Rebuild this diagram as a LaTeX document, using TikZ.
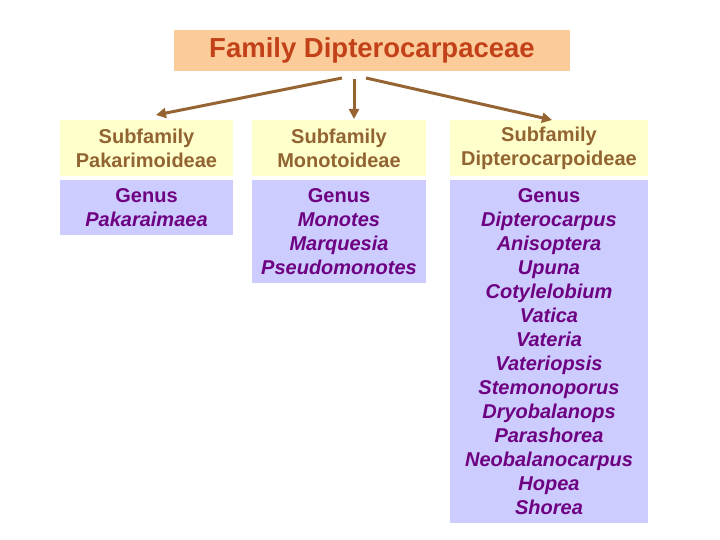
\documentclass[tikz,border=0pt]{standalone}
\usepackage{fontspec}
\setmainfont{Liberation Sans}
\usetikzlibrary{arrows.meta}
\definecolor{titlefill}{RGB}{251,204,153}
\definecolor{titletext}{RGB}{195,65,25}
\definecolor{subfill}{RGB}{255,255,204}
\definecolor{subtext}{RGB}{145,100,50}
\definecolor{genfill}{RGB}{204,204,255}
\definecolor{gentext}{RGB}{110,0,130}
\definecolor{arrcol}{RGB}{150,100,50}
\tikzset{
  titlebox/.style={fill=titlefill, text=titletext, inner sep=0pt, font=\fontsize{27.5}{32}\selectfont\bfseries},
  subbox/.style={fill=subfill, text=subtext, inner sep=0pt, align=center, font=\fontsize{20}{24}\selectfont\bfseries},
  genbox/.style={fill=genfill, text=gentext, inner sep=0pt, align=center, font=\fontsize{20}{24}\selectfont\bfseries},
  arr/.style={draw=arrcol, line width=3pt, -{Triangle[length=10pt,width=10pt]}},
}
\begin{document}
\begin{tikzpicture}[x=1pt,y=-1pt]
\useasboundingbox (0,0) rectangle (720,540);
% title
\node[titlebox, minimum width=396pt, minimum height=41pt] (title) at (372,50.5) {Family Dipterocarpaceae};
% subfamily boxes
\node[subbox, minimum width=173pt, minimum height=56pt] (s1) at (146.5,148) {Subfamily\\Pakarimoideae};
\node[subbox, minimum width=174pt, minimum height=56pt] (s2) at (339,148) {Subfamily\\Monotoideae};
\node[subbox, minimum width=198pt, minimum height=56pt] (s3) at (549,148) {Subfamily\\Dipterocarpoideae};
% genus boxes
\node[genbox, minimum width=173pt, minimum height=55pt] (g1) at (146.5,207.5) {Genus\\\itshape Pakaraimaea};
\node[genbox, minimum width=174pt, minimum height=103pt] (g2) at (339,231.5) {Genus\\\itshape Monotes\\\itshape Marquesia\\\itshape Pseudomonotes};
\node[genbox, minimum width=198pt, minimum height=343pt] (g3) at (549,351.5) {Genus\\\itshape Dipterocarpus\\\itshape Anisoptera\\\itshape Upuna\\\itshape Cotylelobium\\\itshape Vatica\\\itshape Vateria\\\itshape Vateriopsis\\\itshape Stemonoporus\\\itshape Dryobalanops\\\itshape Parashorea\\\itshape Neobalanocarpus\\\itshape Hopea\\\itshape Shorea};
% arrows
\coordinate (a1) at (342,78);
\coordinate (a2) at (354,79);
\coordinate (a3) at (366,78);
\coordinate (e1) at (156,115);
\coordinate (e2) at (354,119);
\coordinate (e3) at (552,120);
\draw[arr] (a1) -- (e1);
\draw[arr] (a2) -- (e2);
\draw[arr] (a3) -- (e3);
\end{tikzpicture}
\end{document}
